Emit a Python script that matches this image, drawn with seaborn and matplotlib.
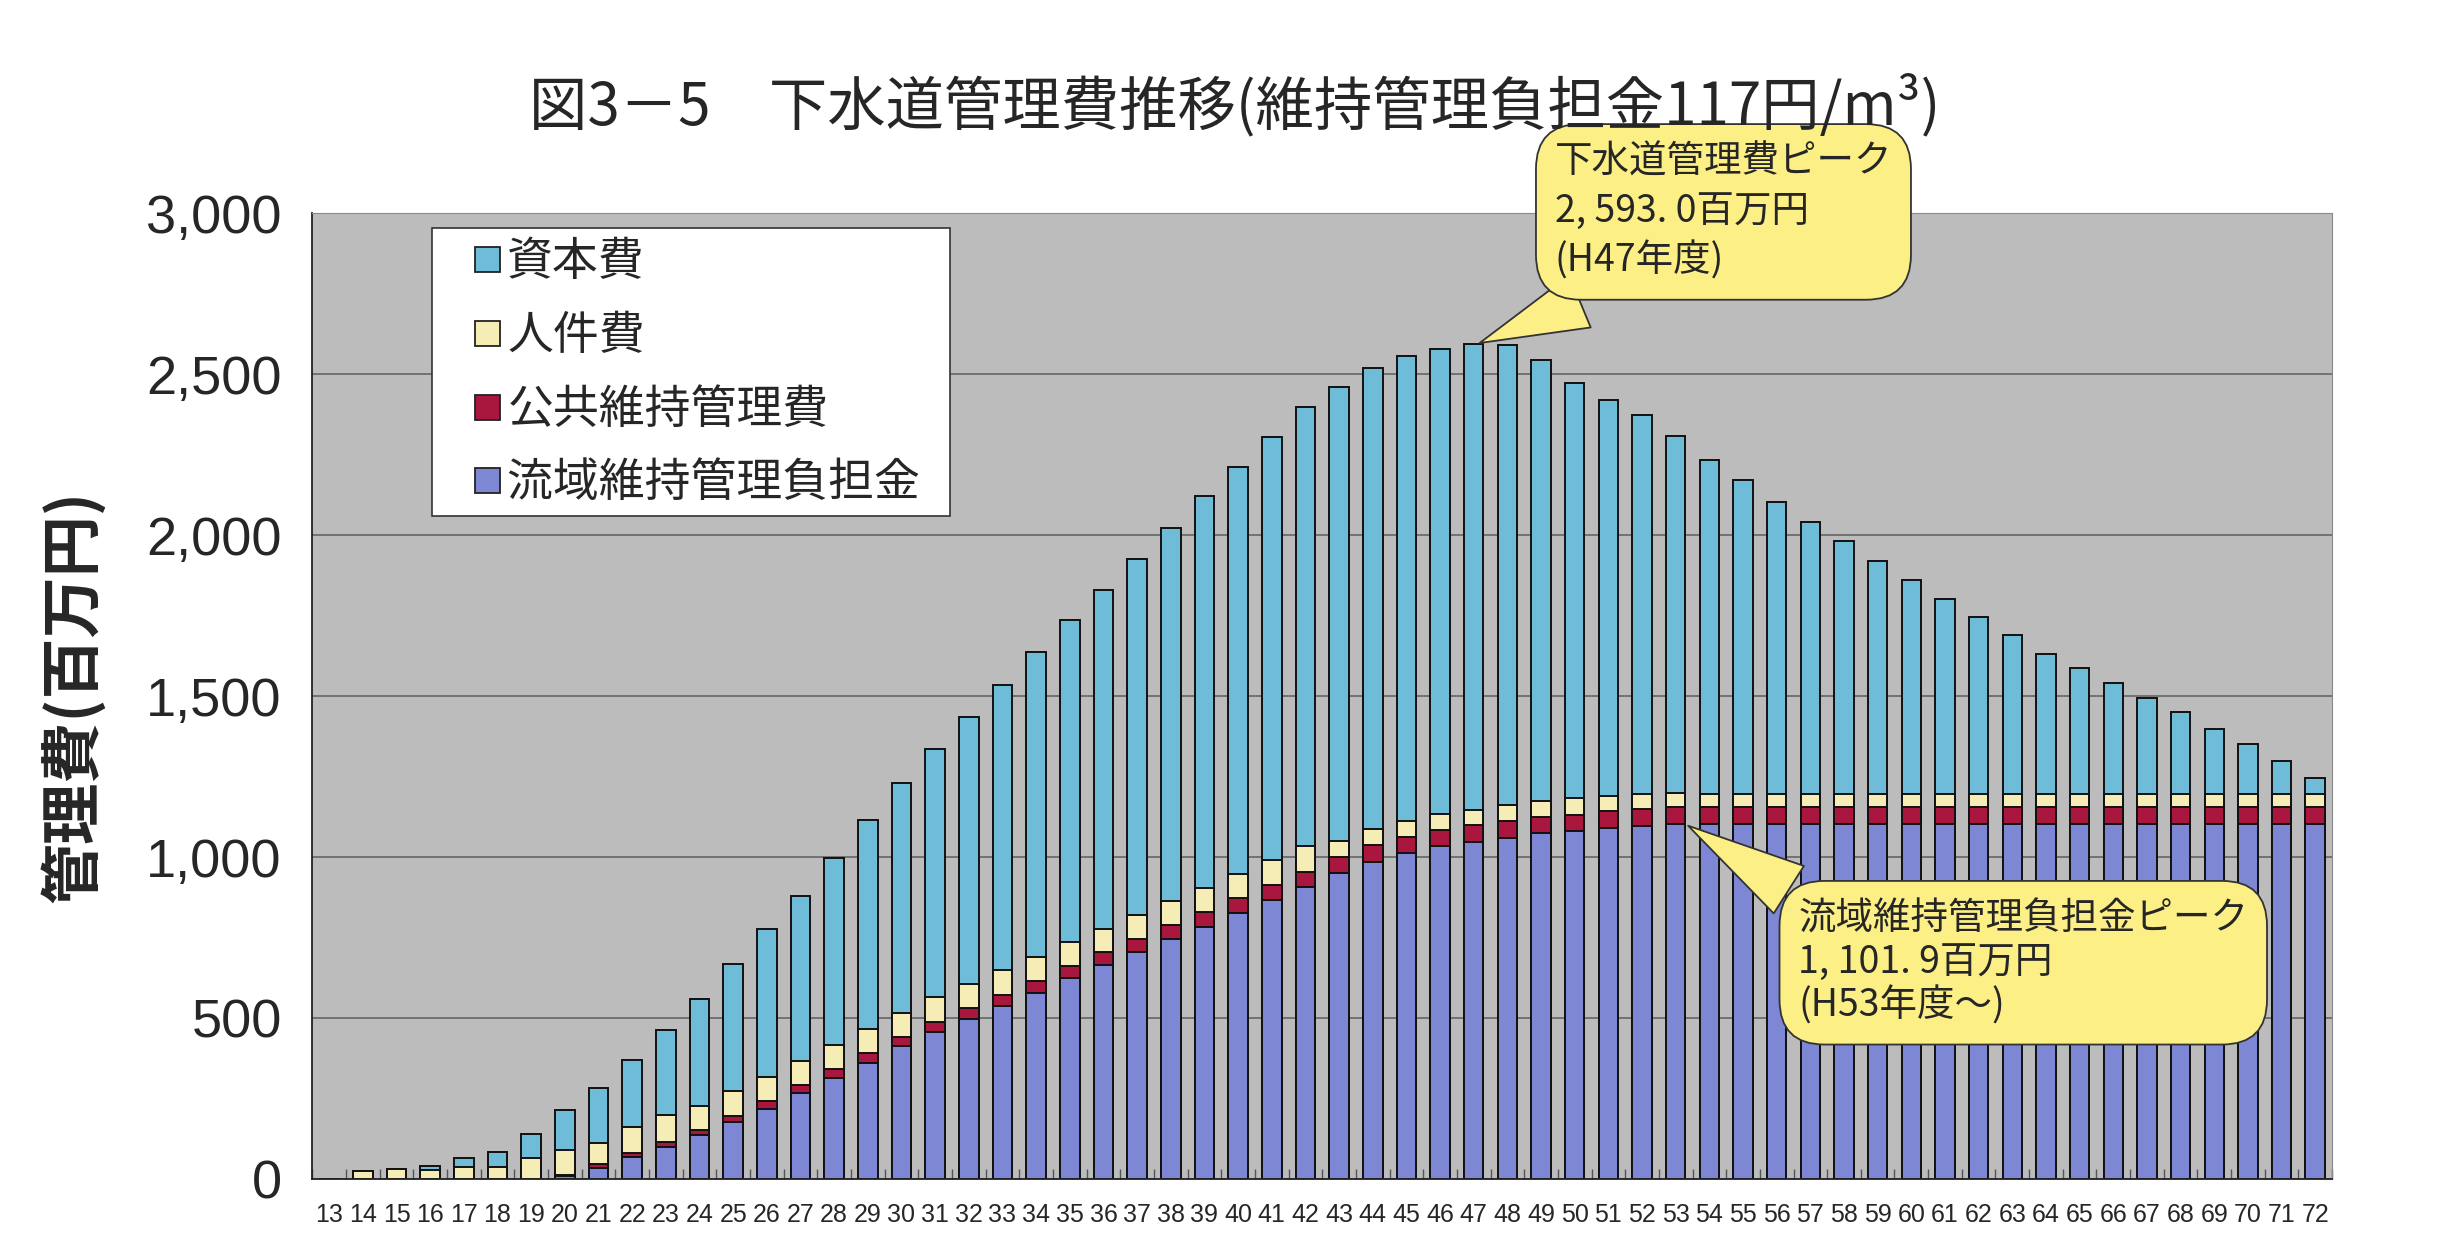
import numpy as np
import pandas as pd
import matplotlib
matplotlib.use('Agg')
import matplotlib.pyplot as plt
from matplotlib.lines import Line2D
from matplotlib.ticker import FuncFormatter
import seaborn as sns

# 年度 (H13 - H72)
years = ['13', '14', '15', '16', '17', '18', '19', '20', '21', '22',
         '23', '24', '25', '26', '27', '28', '29', '30', '31', '32',
         '33', '34', '35', '36', '37', '38', '39', '40', '41', '42',
         '43', '44', '45', '46', '47', '48', '49', '50', '51', '52',
         '53', '54', '55', '56', '57', '58', '59', '60', '61', '62',
         '63', '64', '65', '66', '67', '68', '69', '70', '71', '72']

# 流域維持管理負担金 (百万円)
ryuiki = [0, 0, 0, 0, 0, 0, 0, 8, 35, 68,
          100, 137, 177, 219, 267, 315, 362, 412, 458, 497,
          538, 578, 625, 666, 705, 747, 784, 826, 867, 908,
          950, 986, 1012, 1033, 1048, 1060, 1074, 1081, 1090, 1097,
          1101.9, 1101.9, 1101.9, 1101.9, 1101.9, 1101.9, 1101.9, 1101.9, 1101.9, 1101.9,
          1101.9, 1101.9, 1101.9, 1101.9, 1101.9, 1101.9, 1101.9, 1101.9, 1101.9, 1101.9]

# 公共維持管理費
kokyo = [0, 0, 0, 0, 0, 0, 0, 6, 11, 12,
         15, 15, 20, 22, 24, 26, 28, 29, 30, 33,
         35, 36, 37, 38, 40, 42, 45, 46, 47, 47,
         50, 50, 51, 51, 51, 51, 51, 51, 52, 52,
         52, 52, 52, 52, 52, 52, 52, 52, 52, 52,
         52, 52, 52, 52, 52, 52, 52, 52, 52, 52]

# 人件費
jinken = [0, 24, 32, 28, 38, 39, 65, 76, 66, 83,
          83, 76, 75, 75, 75, 75, 75, 75, 77, 77,
          76, 77, 74, 74, 76, 76, 76, 75, 78, 80,
          49, 50, 49, 49, 47, 51, 49, 50, 48, 47,
          46, 42, 42, 42, 42, 42, 42, 42, 42, 42,
          42, 42, 42, 42, 42, 42, 42, 42, 42, 42]

# 資本費
shihon = [0, 0, 0, 13, 27, 46, 75, 125, 172, 208,
          265, 330, 397, 461, 514, 582, 651, 714, 769, 829,
          886, 945, 999, 1051, 1106, 1157, 1215, 1263, 1312, 1362,
          1410, 1433, 1445, 1446, 1447, 1428, 1370, 1291, 1230, 1177,
          1107, 1038, 976, 908, 844, 785, 723, 663, 607, 551,
          493, 436, 392, 346, 298, 254, 203, 154, 102, 51]

C_SHIHON = '#6EBCD7'
C_JINKEN = '#F6EDB6'
C_KOKYO = '#A9173F'
C_RYUIKI = '#7E87D3'
BG = '#BCBCBC'
BUBBLE = '#FCEF86'
CJK = ['Noto Sans CJK JP', 'DejaVu Sans']

sns.set_style('white')
plt.rcParams['font.family'] = ['Liberation Sans', 'Noto Sans CJK JP']

df = pd.DataFrame({'year': years, 'ryuiki': ryuiki, 'kokyo': kokyo,
                   'jinken': jinken, 'shihon': shihon})
# cumulative heights, drawn back to front
df['c1'] = df['ryuiki']
df['c2'] = df['c1'] + df['kokyo']
df['c3'] = df['c2'] + df['jinken']
df['c4'] = df['c3'] + df['shihon']

fig = plt.figure(figsize=(24.6, 12.53), dpi=100)
ax = fig.add_axes([0.127, 0.059, 0.821, 0.771])
ax.set_facecolor(BG)

for col, color in [('c4', C_SHIHON), ('c3', C_JINKEN), ('c2', C_KOKYO), ('c1', C_RYUIKI)]:
    sns.barplot(data=df, x='year', y=col, order=years, color=color, saturation=1,
                width=0.58, edgecolor='#111111', linewidth=1.4, errorbar=None, ax=ax)

ax.set_xlim(-0.5, len(years) - 0.5)
ax.set_ylim(0, 3000)
ax.set_yticks(np.arange(0, 3001, 500))
ax.yaxis.set_major_formatter(FuncFormatter(lambda v, p: f'{int(v):,}'))
ax.yaxis.grid(True, color='#5E5E5E', lw=1.1)
ax.xaxis.grid(False)
ax.set_axisbelow(True)

ax.tick_params(axis='y', labelsize=39, length=0, pad=22)
ax.tick_params(axis='x', which='major', labelsize=18, length=0, pad=17)
ax.set_xticks(np.arange(-0.5, len(years)), minor=True)
ax.tick_params(axis='x', which='minor', direction='in', length=7, width=1,
               color='#555555', bottom=True)

for side in ['left', 'bottom']:
    ax.spines[side].set_color('#222222')
    ax.spines[side].set_linewidth(1.3)
for side in ['top', 'right']:
    ax.spines[side].set_color('#8A8A8A')
    ax.spines[side].set_linewidth(0.8)

ax.set_xlabel('')
ax.set_ylabel('管理費(百万円)', fontsize=44, family=CJK, fontweight='bold', labelpad=30)

fig.text(0.502, 0.915, '図3－5　下水道管理費推移(維持管理負担金117円/m³)',
         fontsize=42, ha='center', va='center', family=CJK)

labels = ['資本費', '人件費', '公共維持管理費', '流域維持管理負担金  ']
colors = [C_SHIHON, C_JINKEN, C_KOKYO, C_RYUIKI]
handles = [Line2D([], [], ls='none', marker='s', markersize=18, mfc=c,
                  mec='#222222', mew=1.3, label=l) for c, l in zip(colors, labels)]
leg = ax.legend(handles=handles, loc='upper left', bbox_to_anchor=(0.059, 0.984),
                borderaxespad=0, prop={'family': CJK, 'size': 33}, frameon=True,
                fancybox=False, edgecolor='#333333', framealpha=1,
                handlelength=2.0, handletextpad=-0.55,
                labelspacing=0.55, borderpad=0.2)
leg.get_frame().set_linewidth(1.2)

# callouts
i47 = years.index('47')
ax.annotate('下水道管理費ピーク\n2, 593. 0百万円\n(H47年度)',
            xy=(i47 + 0.1, df.loc[i47, 'c4']), xycoords='data',
            xytext=(0.632, 0.886), textcoords='figure fraction',
            ha='left', va='top', fontsize=27, family=CJK, linespacing=1.35,
            bbox=dict(boxstyle='round,pad=0.5,rounding_size=1.2', fc=BUBBLE,
                      ec='#333333', lw=1.3),
            arrowprops=dict(arrowstyle='wedge,tail_width=1.5,shrink_factor=0.5',
                            fc=BUBBLE, ec='#333333', lw=1.3, relpos=(0.3, 0.08)))

i53 = years.index('53')
ax.annotate('流域維持管理負担金ピーク\n1, 101. 9百万円\n(H53年度～)',
            xy=(i53 + 0.3, df.loc[i53, 'c1']), xycoords='data',
            xytext=(0.731, 0.282), textcoords='figure fraction',
            ha='left', va='top', fontsize=27, family=CJK, linespacing=1.15,
            bbox=dict(boxstyle='round,pad=0.5,rounding_size=1.2', fc=BUBBLE,
                      ec='#333333', lw=1.3),
            arrowprops=dict(arrowstyle='wedge,tail_width=1.5,shrink_factor=0.5',
                            fc=BUBBLE, ec='#333333', lw=1.3, relpos=(0.08, 0.85)))

fig.savefig('out.png', dpi=100, facecolor='white')
